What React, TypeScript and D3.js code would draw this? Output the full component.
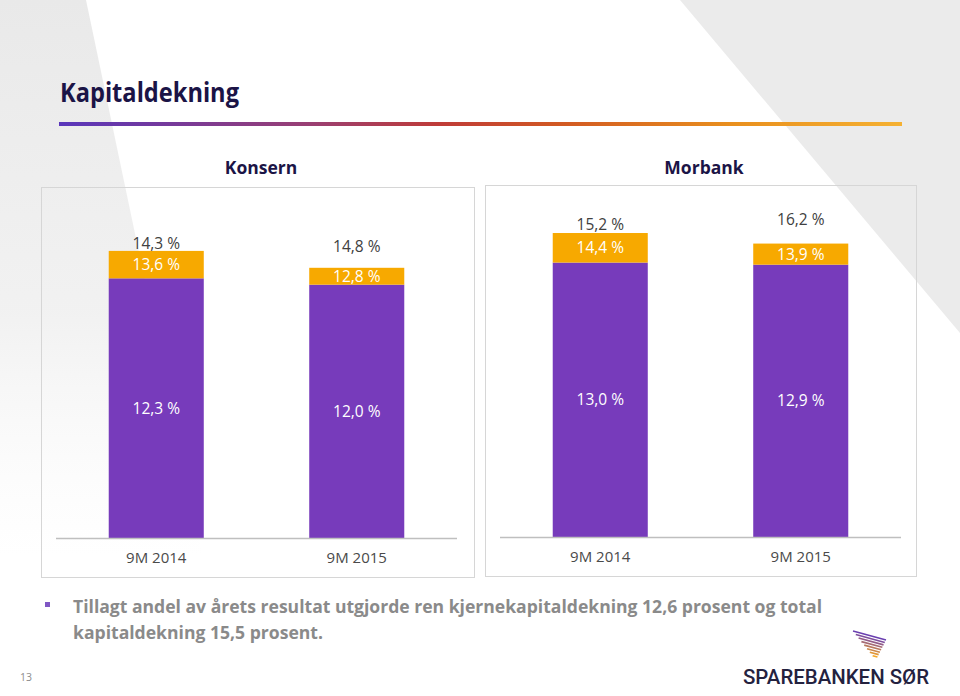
import React from "react";
import * as d3 from "d3";

const categories = ["9M 2014", "9M 2015"];
const konsernCet1 = [12.3, 12.0];
const konsernCore = [13.6, 12.8];
const konsernTotal = [14.3, 14.8];
const morbankCet1 = [13.0, 12.9];
const morbankCore = [14.4, 13.9];
const morbankTotal = [15.2, 16.2];

const titleText = "Kapitaldekning";
const bulletLine1 = "Tillagt andel av årets resultat utgjorde ren kjernekapitaldekning 12,6 prosent og total";
const bulletLine2 = "kapitaldekning 15,5 prosent.";

const PURPLE = "#773bbb";
const ORANGE = "#f7a900";
const NAVY = "#1b1446";
const FONT = "'Open Sans', 'Noto Sans', sans-serif";

const fmt = (v: number) => v.toFixed(1).replace(".", ",") + " %";

type PanelProps = {
  title: string;
  titleX: number;
  rect: { x: number; y: number; w: number; h: number };
  range: [number, number];
  baseline: number;
  cet1: number[];
  core: number[];
  total: number[];
};

function Panel({ title, titleX, rect, range, baseline, cet1, core, total }: PanelProps) {
  const x = d3.scaleBand<string>().domain(categories).range(range).paddingInner(0.526).paddingOuter(0.263);
  const y = d3.scaleLinear().domain([0, 18]).range([baseline, baseline - 18 * 21.11]);
  const bw = x.bandwidth();
  return (
    <g>
      <text x={titleX} y={174} textAnchor="middle" fontFamily={FONT} fontWeight={700} fontSize={17.5} fill={NAVY}>
        {title}
      </text>
      <rect x={rect.x + 0.5} y={rect.y + 0.5} width={rect.w} height={rect.h} fill="none" stroke="#d6d6d6" strokeWidth={1} />
      {categories.map((c, i) => {
        const bx = x(c)!;
        const cx = bx + bw / 2;
        return (
          <g key={c}>
            <rect x={bx} y={y(cet1[i])} width={bw} height={y(0) - y(cet1[i])} fill={PURPLE} />
            <rect x={bx} y={y(core[i])} width={bw} height={y(cet1[i]) - y(core[i])} fill={ORANGE} />
            <text x={cx} y={(y(0) + y(cet1[i])) / 2} dy="0.35em" textAnchor="middle" fontFamily={FONT} fontSize={15.5} fill="#ffffff">
              {fmt(cet1[i])}
            </text>
            <text x={cx} y={(y(cet1[i]) + y(core[i])) / 2} dy="0.35em" textAnchor="middle" fontFamily={FONT} fontSize={15.5} fill="#ffffff">
              {fmt(core[i])}
            </text>
            <text x={cx} y={(y(core[i]) + y(total[i])) / 2} dy="0.35em" textAnchor="middle" fontFamily={FONT} fontSize={15.5} fill="#404040">
              {fmt(total[i])}
            </text>
            <text x={cx} y={baseline + 25} textAnchor="middle" fontFamily={FONT} fontSize={15} fill="#4a4a4a">
              {c}
            </text>
          </g>
        );
      })}
      <line x1={range[0]} x2={range[1]} y1={baseline + 0.5} y2={baseline + 0.5} stroke="#bfbfbf" strokeWidth={1.5} />
    </g>
  );
}

function Logo() {
  const stripes = d3.range(8);
  const leftTop: [number, number] = [853, 631];
  const rightTop: [number, number] = [886, 640];
  const bottom: [number, number] = [876, 660];
  const color = d3.scaleLinear<string>().domain([0, 7]).range(["#6a3fb0", "#f5a623"]).interpolate(d3.interpolateRgb);
  return (
    <g>
      {stripes.map((s) => {
        const t = s / 8.2;
        const lx = leftTop[0] + (bottom[0] - leftTop[0]) * t;
        const ly = leftTop[1] + (bottom[1] - leftTop[1]) * t;
        const rx = rightTop[0] + (bottom[0] - rightTop[0]) * t;
        const ry = rightTop[1] + (bottom[1] - rightTop[1]) * t;
        return <line key={s} x1={lx} y1={ly} x2={rx} y2={ry} stroke={color(s)} strokeWidth={1.6} />;
      })}
      <text x={743} y={684} fontFamily="Roboto, 'Open Sans', sans-serif" fontWeight={500} fontSize={21} fill="#24223f" textLength={186} lengthAdjust="spacingAndGlyphs">
        SPAREBANKEN SØR
      </text>
    </g>
  );
}

export default function App() {
  return (
    <svg width={960} height={696} style={{ position: "absolute", left: 0, top: 0, display: "block" }}>
      <defs>
        <linearGradient id="leftFade" x1="0" y1="0" x2="0" y2="1">
          <stop offset="0" stopColor="#e9e9e9" stopOpacity={1} />
          <stop offset="0.45" stopColor="#eeeeee" stopOpacity={0.8} />
          <stop offset="0.8" stopColor="#f6f6f6" stopOpacity={0} />
        </linearGradient>
        <linearGradient id="rule" x1="0" y1="0" x2="1" y2="0">
          <stop offset="0" stopColor="#5936bb" />
          <stop offset="0.3" stopColor="#9a3f72" />
          <stop offset="0.45" stopColor="#bf3b38" />
          <stop offset="0.6" stopColor="#d25a22" />
          <stop offset="0.8" stopColor="#e9901e" />
          <stop offset="1" stopColor="#f5b132" />
        </linearGradient>
      </defs>
      <rect x={0} y={0} width={960} height={696} fill="#ffffff" />
      <polygon points="0,0 86,0 232,696 0,696" fill="url(#leftFade)" />
      <polygon points="680,0 960,0 960,333" fill="#ebebeb" />

      <text x={60} y={102} fontFamily={FONT} fontWeight={700} fontSize={26} fill={NAVY} textLength={179} lengthAdjust="spacingAndGlyphs">
        {titleText}
      </text>
      <rect x={59} y={122} width={843} height={4} fill="url(#rule)" />

      <Panel
        title="Konsern"
        titleX={261}
        rect={{ x: 41, y: 187, w: 433, h: 390 }}
        range={[56, 457]}
        baseline={538}
        cet1={konsernCet1}
        core={konsernCore}
        total={konsernTotal}
      />
      <Panel
        title="Morbank"
        titleX={704}
        rect={{ x: 485, y: 185, w: 431, h: 391 }}
        range={[500, 901]}
        baseline={537}
        cet1={morbankCet1}
        core={morbankCore}
        total={morbankTotal}
      />

      <rect x={45} y={602} width={5} height={5} fill="#8057c4" />
      <text x={73} y={613} fontFamily={FONT} fontWeight={700} fontSize={17} fill="#8a8a8a" textLength={749} lengthAdjust="spacingAndGlyphs">
        {bulletLine1}
      </text>
      <text x={73} y={639} fontFamily={FONT} fontWeight={700} fontSize={17} fill="#8a8a8a" textLength={250} lengthAdjust="spacingAndGlyphs">
        {bulletLine2}
      </text>

      <text x={20} y={681} fontFamily={FONT} fontSize={10.5} fill="#8c8c8c">
        13
      </text>

      <Logo />
    </svg>
  );
}
